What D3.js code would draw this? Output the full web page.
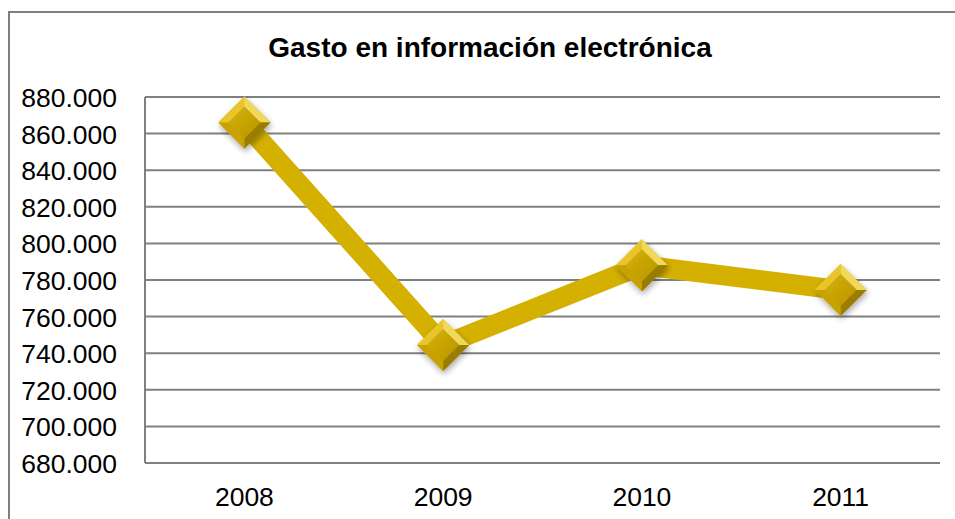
<!DOCTYPE html>
<html>
<head>
<meta charset="utf-8">
<script src="https://cdn.jsdelivr.net/npm/d3@7"></script>
<style>
  body { margin: 0; background: #fff; }
  svg { display: block; font-family: "Liberation Sans", Arial, sans-serif; }
</style>
</head>
<body>
<div id="chart"></div>
<script>
// data
var years = ["2008", "2009", "2010", "2011"]
var gasto = [866, 744.5, 788, 774.5]
var yTicks = [680, 700, 720, 740, 760, 780, 800, 820, 840, 860, 880]

var W = 955, H = 519
var margin = {top: 97, right: 15, bottom: 56, left: 145}
var width = W - margin.left - margin.right
var height = H - margin.top - margin.bottom

var svg = d3.select("#chart")
  .append("svg")
    .attr("width", W)
    .attr("height", H)

// outer frame
svg.append("rect")
  .attr("x", 9).attr("y", 12)
  .attr("width", 1000).attr("height", 600)
  .attr("fill", "none")
  .attr("stroke", "#7f7f7f")
  .attr("stroke-width", 2)

svg.append("text")
  .attr("x", 490).attr("y", 57)
  .attr("text-anchor", "middle")
  .style("font-size", "28px")
  .style("font-weight", "bold")
  .text("Gasto en información electrónica")

var defs = svg.append("defs")
var grad = defs.append("linearGradient")
  .attr("id", "gold").attr("x1", 0).attr("y1", 0).attr("x2", 1).attr("y2", 1)
grad.append("stop").attr("offset", "0%").attr("stop-color", "#f2d64a")
grad.append("stop").attr("offset", "50%").attr("stop-color", "#c9a400")
grad.append("stop").attr("offset", "100%").attr("stop-color", "#8a6e00")
var grad2 = defs.append("linearGradient")
  .attr("id", "goldface").attr("x1", 0).attr("y1", 0).attr("x2", 1).attr("y2", 1)
grad2.append("stop").attr("offset", "0%").attr("stop-color", "#d6b20a")
grad2.append("stop").attr("offset", "100%").attr("stop-color", "#b89400")
var shadow = defs.append("filter").attr("id", "shadow")
  .attr("x", "-50%").attr("y", "-50%").attr("width", "200%").attr("height", "200%")
shadow.append("feGaussianBlur").attr("in", "SourceAlpha").attr("stdDeviation", 3)
shadow.append("feOffset").attr("dx", 1).attr("dy", 3).attr("result", "b")
shadow.append("feComponentTransfer").append("feFuncA").attr("type", "linear").attr("slope", 0.35)
var merge = shadow.append("feMerge")
merge.append("feMergeNode")
merge.append("feMergeNode").attr("in", "SourceGraphic")

var g = svg.append("g")
  .attr("transform", "translate(" + margin.left + "," + margin.top + ")")

var x = d3.scaleBand()
  .range([0, width])
  .domain(years)

var y = d3.scaleLinear()
  .domain([680, 880])
  .range([height, 0])

// gridlines
g.selectAll(".grid")
  .data(yTicks)
  .enter()
  .append("line")
    .attr("x1", 0).attr("x2", width)
    .attr("y1", function(d) { return y(d) })
    .attr("y2", function(d) { return y(d) })
    .attr("stroke", "#808080")
    .attr("stroke-width", 2)

g.append("line")
  .attr("x1", 0).attr("x2", 0)
  .attr("y1", 0).attr("y2", height)
  .attr("stroke", "#808080")
  .attr("stroke-width", 2)

var yAxis = g.append("g")
  .attr("transform", "translate(-25,0)")
  .call(d3.axisLeft(y).tickValues(yTicks).tickSize(0)
        .tickFormat(function(d) { return d + ".000" }))
yAxis.select(".domain").remove()
yAxis.selectAll("text")
  .style("font-size", "26.5px")
  .attr("fill", "#000")
  .attr("dy", "0.36em")

var xAxis = g.append("g")
  .attr("transform", "translate(0," + height + ")")
  .call(d3.axisBottom(x).tickSize(0))
xAxis.select(".domain").remove()
xAxis.selectAll("text")
  .style("font-size", "26.5px")
  .attr("fill", "#000")
  .attr("dy", "1.5em")

var pts = years.map(function(yr, i) {
  return [x(yr) + x.bandwidth() / 2, y(gasto[i])]
})

g.append("path")
  .datum(pts)
  .attr("d", d3.line())
  .attr("fill", "none")
  .attr("stroke", "#d4b000")
  .attr("stroke-width", 20)
  .attr("stroke-linejoin", "miter")

var r = 26, inner = 16
var markers = g.selectAll(".mk")
  .data(pts)
  .enter()
  .append("g")
    .attr("transform", function(d) { return "translate(" + d[0] + "," + d[1] + ")" })
    .attr("filter", "url(#shadow)")

markers.append("path")
  .attr("d", "M0," + (-r) + "L" + r + ",0L0," + r + "L" + (-r) + ",0Z")
  .attr("fill", "url(#gold)")
markers.append("path")
  .attr("d", "M0," + (-r) + "L" + (-r) + ",0L" + (-inner) + ",0L0," + (-inner) + "Z")
  .attr("fill", "#e8c52a")
markers.append("path")
  .attr("d", "M0," + (-r) + "L" + r + ",0L" + inner + ",0L0," + (-inner) + "Z")
  .attr("fill", "#f0d85a")
markers.append("path")
  .attr("d", "M" + r + ",0L0," + r + "L0," + inner + "L" + inner + ",0Z")
  .attr("fill", "#9a7b00")
markers.append("path")
  .attr("d", "M" + (-r) + ",0L0," + r + "L0," + inner + "L" + (-inner) + ",0Z")
  .attr("fill", "#c8a300")
markers.append("path")
  .attr("d", "M0," + (-inner) + "L" + inner + ",0L0," + inner + "L" + (-inner) + ",0Z")
  .attr("fill", "url(#goldface)")
</script>
</body>
</html>
